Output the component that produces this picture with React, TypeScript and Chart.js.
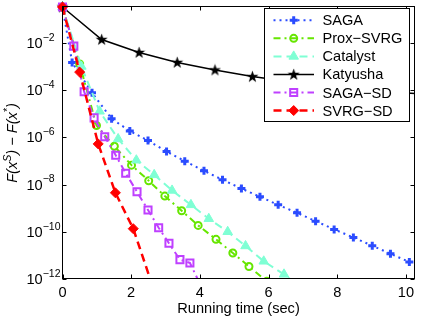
import React, { useEffect, useRef } from 'react';
import { Chart, registerables } from 'chart.js';

Chart.register(...registerables);

const FONT = '"Liberation Sans", Arial, Helvetica, sans-serif';

// ---- data (time in sec, objective gap) ----
const seriesNames = ['SAGA', 'Prox−SVRG', 'Catalyst', 'Katyusha', 'SAGA−SD', 'SVRG−SD'];

const sagaTime = [0, 0.28, 0.86, 1.43, 1.96, 2.49, 3.03, 3.56, 4.12, 4.66, 5.21, 5.75, 6.28, 6.83, 7.37, 7.91, 8.47, 9.02, 9.55, 10.1];
const sagaGap = [0.328, 1.48e-3, 7.76e-5, 6.03e-6, 1.86e-6, 7.24e-7, 2.51e-7, 9.77e-8, 3.8e-8, 1.58e-8, 6.76e-9, 3.02e-9, 1.38e-9, 6.31e-10, 2.82e-10, 1.26e-10, 5.75e-11, 2.57e-11, 1.17e-11, 5.25e-12];

const proxTime = [0, 0.5, 0.99, 1.51, 2.01, 2.51, 2.98, 3.47, 3.95, 4.47, 4.96, 5.43, 5.95];
const proxGap = [0.328, 1.26e-3, 3.16e-6, 4.17e-7, 6.61e-8, 1.45e-8, 3.24e-9, 7.76e-10, 1.86e-10, 4.79e-11, 1.26e-11, 3.39e-12, 7.94e-13];

const catalystTime = [0, 0.55, 1.08, 1.62, 2.15, 2.67, 3.19, 3.74, 4.26, 4.81, 5.33, 5.86, 6.45, 6.98];
const catalystGap = [0.328, 1e-3, 1.26e-5, 8.51e-7, 1.07e-7, 2.57e-8, 5.62e-9, 1.38e-9, 3.55e-10, 1e-10, 2.51e-11, 5.62e-12, 1.58e-12, 3.98e-13];

const katyushaTime = [0, 1.14, 2.23, 3.34, 4.44, 5.53, 6.63, 7.72, 8.82, 9.91, 11.0];
const katyushaGap = [0.328, 1.38e-2, 3.89e-3, 1.48e-3, 7.08e-4, 3.72e-4, 2.24e-4, 1.48e-4, 1.05e-4, 7.76e-5, 6.03e-5];

const sagaSdTime = [0, 0.33, 0.63, 0.92, 1.23, 1.55, 1.84, 2.17, 2.49, 2.8, 3.1, 3.42, 3.71, 4.02];
const sagaSdGap = [0.328, 7.24e-3, 8.51e-5, 6.61e-6, 1.05e-6, 1.74e-7, 3.02e-8, 4.9e-9, 8.32e-10, 1.48e-10, 3.24e-11, 6.61e-12, 4.79e-12, 5.5e-13];

const svrgSdTime = [0, 0.5, 1.04, 1.54, 2.06, 2.6];
const svrgSdGap = [0.328, 5.75e-4, 5.25e-7, 4.47e-9, 1.35e-10, 6.31e-13];

const xTicks = [0, 2, 4, 6, 8, 10];
const yTickExponents = [-12, -10, -8, -6, -4, -2];
const xMax = 10.25;
const yMin = 1e-12;
const yMax = 0.328;

const xTitle = 'Running time (sec)';

function makeStar(color: string): HTMLCanvasElement {
  const c = document.createElement('canvas');
  c.width = 13;
  c.height = 13;
  const g = c.getContext('2d')!;
  const cx = 6.5, cy = 6.8, R = 6.3, r = 2.5;
  g.beginPath();
  for (let i = 0; i < 10; i++) {
    const rad = i % 2 === 0 ? R : r;
    const ang = -Math.PI / 2 + (i * Math.PI) / 5;
    const px = cx + rad * Math.cos(ang);
    const py = cy + rad * Math.sin(ang);
    if (i === 0) g.moveTo(px, py);
    else g.lineTo(px, py);
  }
  g.closePath();
  g.fillStyle = color;
  g.fill();
  return c;
}

function drawMarker(ctx: CanvasRenderingContext2D, ds: any, x: number, y: number) {
  const style = ds.pointStyle;
  const r = ds.pointRadius;
  ctx.save();
  ctx.setLineDash([]);
  ctx.lineWidth = ds.pointBorderWidth;
  ctx.strokeStyle = ds.pointBorderColor;
  ctx.fillStyle = ds.pointBackgroundColor;
  if (typeof style === 'object') {
    ctx.drawImage(style, x - style.width / 2, y - style.height / 2);
    ctx.restore();
    return;
  }
  ctx.beginPath();
  if (style === 'cross') {
    ctx.moveTo(x - r, y);
    ctx.lineTo(x + r, y);
    ctx.moveTo(x, y - r);
    ctx.lineTo(x, y + r);
    ctx.stroke();
  } else if (style === 'circle') {
    ctx.arc(x, y, r, 0, Math.PI * 2);
    ctx.fill();
    ctx.stroke();
  } else if (style === 'triangle') {
    for (let i = 0; i < 3; i++) {
      const ang = -Math.PI / 2 + (i * 2 * Math.PI) / 3;
      const px = x + r * Math.cos(ang);
      const py = y + r * Math.sin(ang);
      if (i === 0) ctx.moveTo(px, py);
      else ctx.lineTo(px, py);
    }
    ctx.closePath();
    ctx.fill();
    ctx.stroke();
  } else if (style === 'rect') {
    const s = r / Math.SQRT2;
    ctx.rect(x - s, y - s, 2 * s, 2 * s);
    ctx.fill();
    ctx.stroke();
  } else if (style === 'rectRot') {
    ctx.moveTo(x, y - r);
    ctx.lineTo(x + r, y);
    ctx.lineTo(x, y + r);
    ctx.lineTo(x - r, y);
    ctx.closePath();
    ctx.fill();
    ctx.stroke();
  }
  ctx.restore();
}

const decorPlugin = {
  id: 'decor',
  afterDraw(chart: any) {
    const ctx: CanvasRenderingContext2D = chart.ctx;
    const a = chart.chartArea;
    const xs = chart.scales.x;
    const ys = chart.scales.y;
    const L = Math.floor(a.left) + 0.5;
    const R = Math.floor(a.right) + 0.5;
    const T = Math.round(a.top) - 0.5;
    const B = Math.round(a.bottom) - 0.5;
    ctx.save();
    // frame
    ctx.strokeStyle = '#000';
    ctx.lineWidth = 1;
    ctx.setLineDash([]);
    ctx.strokeRect(L, T, R - L, B - T);
    // ticks inward on all sides
    const tl = 4;
    ctx.beginPath();
    xTicks.forEach((v) => {
      const px = Math.round(xs.getPixelForValue(v)) + 0.5;
      ctx.moveTo(px, B);
      ctx.lineTo(px, B - tl);
      ctx.moveTo(px, T);
      ctx.lineTo(px, T + tl);
    });
    yTickExponents.forEach((e) => {
      const py = Math.round(ys.getPixelForValue(Math.pow(10, e))) + 0.5;
      ctx.moveTo(L, py);
      ctx.lineTo(L + tl, py);
      ctx.moveTo(R, py);
      ctx.lineTo(R - tl, py);
    });
    ctx.stroke();

    // y tick labels 10^e
    ctx.fillStyle = '#000';
    yTickExponents.forEach((e) => {
      const py = ys.getPixelForValue(Math.pow(10, e));
      ctx.font = `14.6px ${FONT}`;
      ctx.textBaseline = 'middle';
      ctx.textAlign = 'left';
      const bx = 26.5;
      ctx.fillText('10', bx, py + 1);
      const w = ctx.measureText('10').width;
      ctx.font = `10.5px ${FONT}`;
      ctx.fillText('−' + Math.abs(e), bx + w, py - 5);
    });

    // y title
    ctx.save();
    ctx.translate(13, (a.top + a.bottom) / 2);
    ctx.rotate(-Math.PI / 2);
    const pieces = [
      { t: 'F(x', sup: false },
      { t: 'S', sup: true },
      { t: ') − F(x', sup: false },
      { t: '*', sup: true },
      { t: ')', sup: false },
    ];
    const fMain = `italic 14.6px ${FONT}`;
    const fSup = `italic 10.5px ${FONT}`;
    let total = 0;
    pieces.forEach((p) => {
      ctx.font = p.sup ? fSup : fMain;
      total += ctx.measureText(p.t).width;
    });
    let cx = -total / 2;
    ctx.textBaseline = 'middle';
    ctx.textAlign = 'left';
    pieces.forEach((p) => {
      ctx.font = p.sup ? fSup : fMain;
      ctx.fillText(p.t, cx, p.sup ? -5 : 0);
      cx += ctx.measureText(p.t).width;
    });
    ctx.restore();

    // x title
    ctx.font = `14.6px ${FONT}`;
    ctx.textAlign = 'center';
    ctx.textBaseline = 'middle';
    ctx.fillText(xTitle, (a.left + a.right) / 2, 309);

    // legend
    const bx0 = 264.5, by0 = 8.5, bw = 145, bh = 113;
    ctx.fillStyle = '#fff';
    ctx.fillRect(bx0, by0, bw, bh);
    ctx.strokeStyle = '#000';
    ctx.lineWidth = 1;
    ctx.strokeRect(bx0, by0, bw, bh);
    chart.data.datasets.forEach((ds: any, i: number) => {
      const ry = 20.3 + i * 18.05;
      ctx.save();
      ctx.strokeStyle = ds.borderColor;
      ctx.lineWidth = ds.borderWidth;
      ctx.setLineDash(ds.borderDash || []);
      ctx.beginPath();
      ctx.moveTo(273.5, ry);
      ctx.lineTo(314, ry);
      ctx.stroke();
      ctx.restore();
      drawMarker(ctx, ds, 293.7, ry);
      ctx.fillStyle = '#000';
      ctx.font = `14.6px ${FONT}`;
      ctx.textAlign = 'left';
      ctx.textBaseline = 'middle';
      ctx.fillText(ds.label, 322.5, ry + 1);
    });
    ctx.restore();
  },
};

export default function App() {
  const ref = useRef<HTMLCanvasElement>(null);
  useEffect(() => {
    const canvas = ref.current!;
    const star = makeStar('#000');
    const clip = { left: false, top: false, right: 0, bottom: 0 };
    const mk = (
      label: string,
      xsArr: number[],
      ysArr: number[],
      color: string,
      dash: number[],
      width: number,
      style: any,
      radius: number,
      pbw: number,
      fill: string,
      order: number
    ) => ({
      label,
      data: xsArr.map((x, i) => ({ x, y: ysArr[i] })),
      borderColor: color,
      backgroundColor: fill,
      borderDash: dash,
      borderWidth: width,
      pointStyle: style,
      pointRadius: radius,
      pointHoverRadius: radius,
      pointBorderWidth: pbw,
      pointBorderColor: color,
      pointBackgroundColor: fill,
      tension: 0,
      fill: false,
      clip,
      order,
    });
    const datasets = [
      mk(seriesNames[0], sagaTime, sagaGap, '#2b4cff', [2, 4], 2, 'cross', 4, 3, '#2b4cff', 5),
      mk(seriesNames[1], proxTime, proxGap, '#66e600', [7, 4, 2, 4], 2, 'circle', 3.5, 2, 'rgba(255,255,255,0)', 4),
      mk(seriesNames[2], catalystTime, catalystGap, '#7fffd4', [8, 5], 2, 'triangle', 5.5, 1, '#7fffd4', 3),
      mk(seriesNames[3], katyushaTime, katyushaGap, '#000000', [], 1.5, star, 6, 1, '#000000', 2),
      mk(seriesNames[4], sagaSdTime, sagaSdGap, '#bf40ff', [7, 4, 2, 4], 2, 'rect', 5, 2, 'rgba(255,255,255,0)', 1),
      mk(seriesNames[5], svrgSdTime, svrgSdGap, '#ff0000', [8, 5], 2.5, 'rectRot', 5, 1, '#ff0000', 0),
    ];
    const chart = new Chart(canvas, {
      type: 'line',
      data: { datasets } as any,
      options: {
        responsive: false,
        animation: false,
        events: [],
        layout: { padding: { top: 2, right: 8.5, left: 0, bottom: 0 } },
        plugins: {
          legend: { display: false },
          tooltip: { enabled: false },
          title: { display: false },
        },
        scales: {
          x: {
            type: 'linear',
            min: 0,
            max: xMax,
            grid: { display: false, drawTicks: false },
            border: { display: false },
            ticks: {
              font: { family: FONT, size: 14.6 },
              color: '#000',
              padding: 5,
              maxRotation: 0,
              autoSkip: false,
              callback: (v: any) => String(v),
            },
            afterBuildTicks: (s: any) => {
              s.ticks = xTicks.map((v) => ({ value: v }));
            },
            afterFit: (s: any) => {
              s.height = 39;
            },
          },
          y: {
            type: 'logarithmic',
            min: yMin,
            max: yMax,
            grid: { display: false, drawTicks: false },
            border: { display: false },
            ticks: { display: false },
            afterBuildTicks: (s: any) => {
              s.ticks = yTickExponents.map((e) => ({ value: Math.pow(10, e) }));
            },
            afterFit: (s: any) => {
              s.width = 62.5;
            },
          },
        },
      } as any,
      plugins: [decorPlugin],
    });
    return () => chart.destroy();
  }, []);
  return (
    <div style={{ position: 'fixed', left: 0, top: 0, width: 423, height: 318, background: '#fff' }}>
      <canvas ref={ref} width={423} height={318} style={{ display: 'block' }} />
    </div>
  );
}
